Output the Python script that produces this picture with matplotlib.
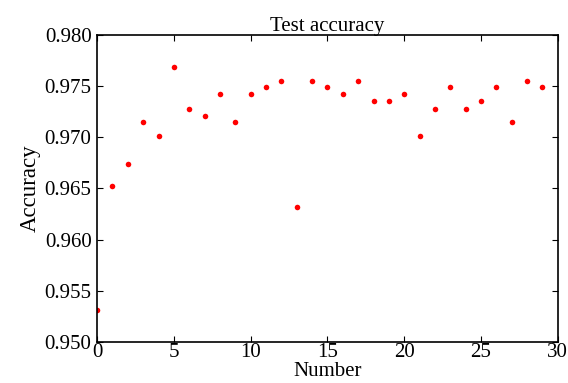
import matplotlib
matplotlib.use('Agg')
from matplotlib import pyplot as plt

plt.rcParams['font.family'] = ['Liberation Serif', 'DejaVu Serif']

number = list(range(30))
accuracy = [0.9531, 0.9652, 0.9674, 0.9715, 0.9701, 0.9769, 0.9728, 0.9721,
            0.9742, 0.9715, 0.9742, 0.9749, 0.9755, 0.9632, 0.9755, 0.9749,
            0.9742, 0.9755, 0.9735, 0.9735, 0.9742, 0.9701, 0.9728, 0.9749,
            0.9728, 0.9735, 0.9749, 0.9715, 0.9755, 0.9749]

fig = plt.figure(figsize=(5.68, 3.83), dpi=100)
ax = fig.add_axes([0.171, 0.107, 0.811, 0.802])
ax.plot(number, accuracy, 'o', color='red', markersize=4, markeredgewidth=0)

ax.set_xlim(0, 30)
ax.set_ylim(0.950, 0.980)
ax.set_xticks([0, 5, 10, 15, 20, 25, 30])
ax.set_yticks([0.950, 0.955, 0.960, 0.965, 0.970, 0.975, 0.980])
ax.set_yticklabels(['%.3f' % v for v in ax.get_yticks()])
ax.tick_params(direction='in', top=True, right=True, length=4, width=0.8,
               labelsize=15)
ax.tick_params(axis='x', pad=1)
ax.tick_params(axis='y', pad=4)
for s in ax.spines.values():
    s.set_linewidth(1.2)

ax.set_xlabel('Number', fontsize=15, labelpad=0)
ax.set_ylabel('Accuracy', fontsize=16.5, labelpad=3)
ax.set_title('Test accuracy', fontsize=15, pad=3)

fig.savefig('out.png', dpi=100)
